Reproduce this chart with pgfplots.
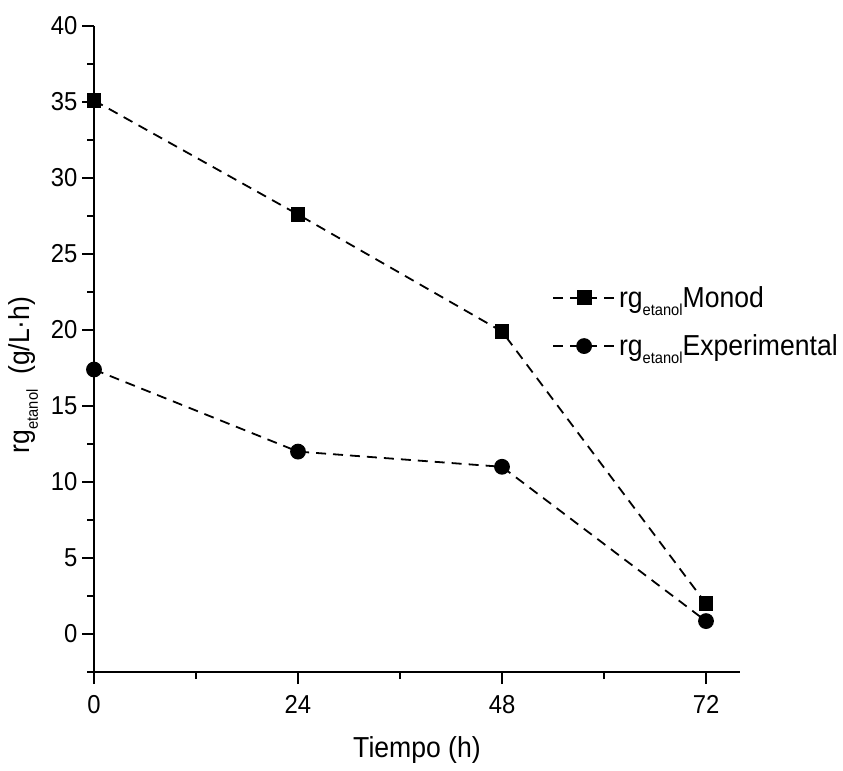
\documentclass[border=0pt]{standalone}
\usepackage{fontspec}
\setmainfont{Liberation Sans}[FakeStretch=0.92]
\usepackage{pgfplots}
\pgfplotsset{compat=1.18}
\newcommand{\sub}[1]{\raisebox{-0.28em}{\fontsize{16}{16}\selectfont #1}}
\pgfplotstableread{
x y
0 35.1
24 27.6
48 19.9
72 2.0
}\monod
\pgfplotstableread{
x y
0 17.4
24 12.0
48 11.0
72 0.85
}\expt
\begin{document}
\begin{tikzpicture}
\begin{axis}[name=ax, scale only axis, width=646bp, height=646bp,
  xmin=0, xmax=76, ymin=-2.5, ymax=40,
  axis x line*=bottom, axis y line*=left,
  axis line style={line width=2.8bp},
  tick style={line width=2bp, black},
  major tick length=12bp, minor tick length=7bp, tick align=outside,
  xtick={0,24,48,72}, minor xtick={12,36,60},
  ytick={0,5,...,40}, minor ytick={-2.5,2.5,7.5,12.5,17.5,22.5,27.5,32.5,37.5},
  /pgf/number format/assume math mode=true,
  ticklabel style={font=\fontsize{26}{30}\selectfont},
  xticklabel style={yshift=-8bp},
  yticklabel style={xshift=-1bp},
  xlabel={Tiempo (h)},
  ylabel={rg\sub{etanol}\ \ (g/L·h)},
  label style={font=\fontsize{29}{33}\selectfont},
  xlabel style={yshift=-16bp},
  ylabel style={at={(ticklabel cs:0.46)}, anchor=near ticklabel, yshift=6bp},
  clip=false,
  legend style={draw=none, fill=none, inner sep=0pt, at={(rel axis cs:0.709,0.542)}, anchor=west,
    font=\fontsize{29}{33}\selectfont, row sep=22bp, nodes={inner xsep=3bp}},
  legend cell align=left,
  legend image code/.code={\draw[mark repeat=2,mark phase=2,#1] plot coordinates {(0bp,0bp) (31bp,0bp) (62bp,0bp)};},
]
\addplot[black, line width=1.8bp, dash pattern=on 10bp off 7bp, mark=square*, mark size=6.5bp, mark options={solid}] table {\monod};
\addlegendentry{rg\sub{etanol}Monod}
\addplot[black, line width=1.8bp, dash pattern=on 10bp off 7bp, mark=*, mark size=7bp, mark options={solid}] table {\expt};
\addlegendentry{rg\sub{etanol}Experimental}
\end{axis}
\path ([shift={(-94bp,-98bp)}]ax.south west) rectangle ([shift={(103bp,26bp)}]ax.north east);
\end{tikzpicture}
\end{document}
